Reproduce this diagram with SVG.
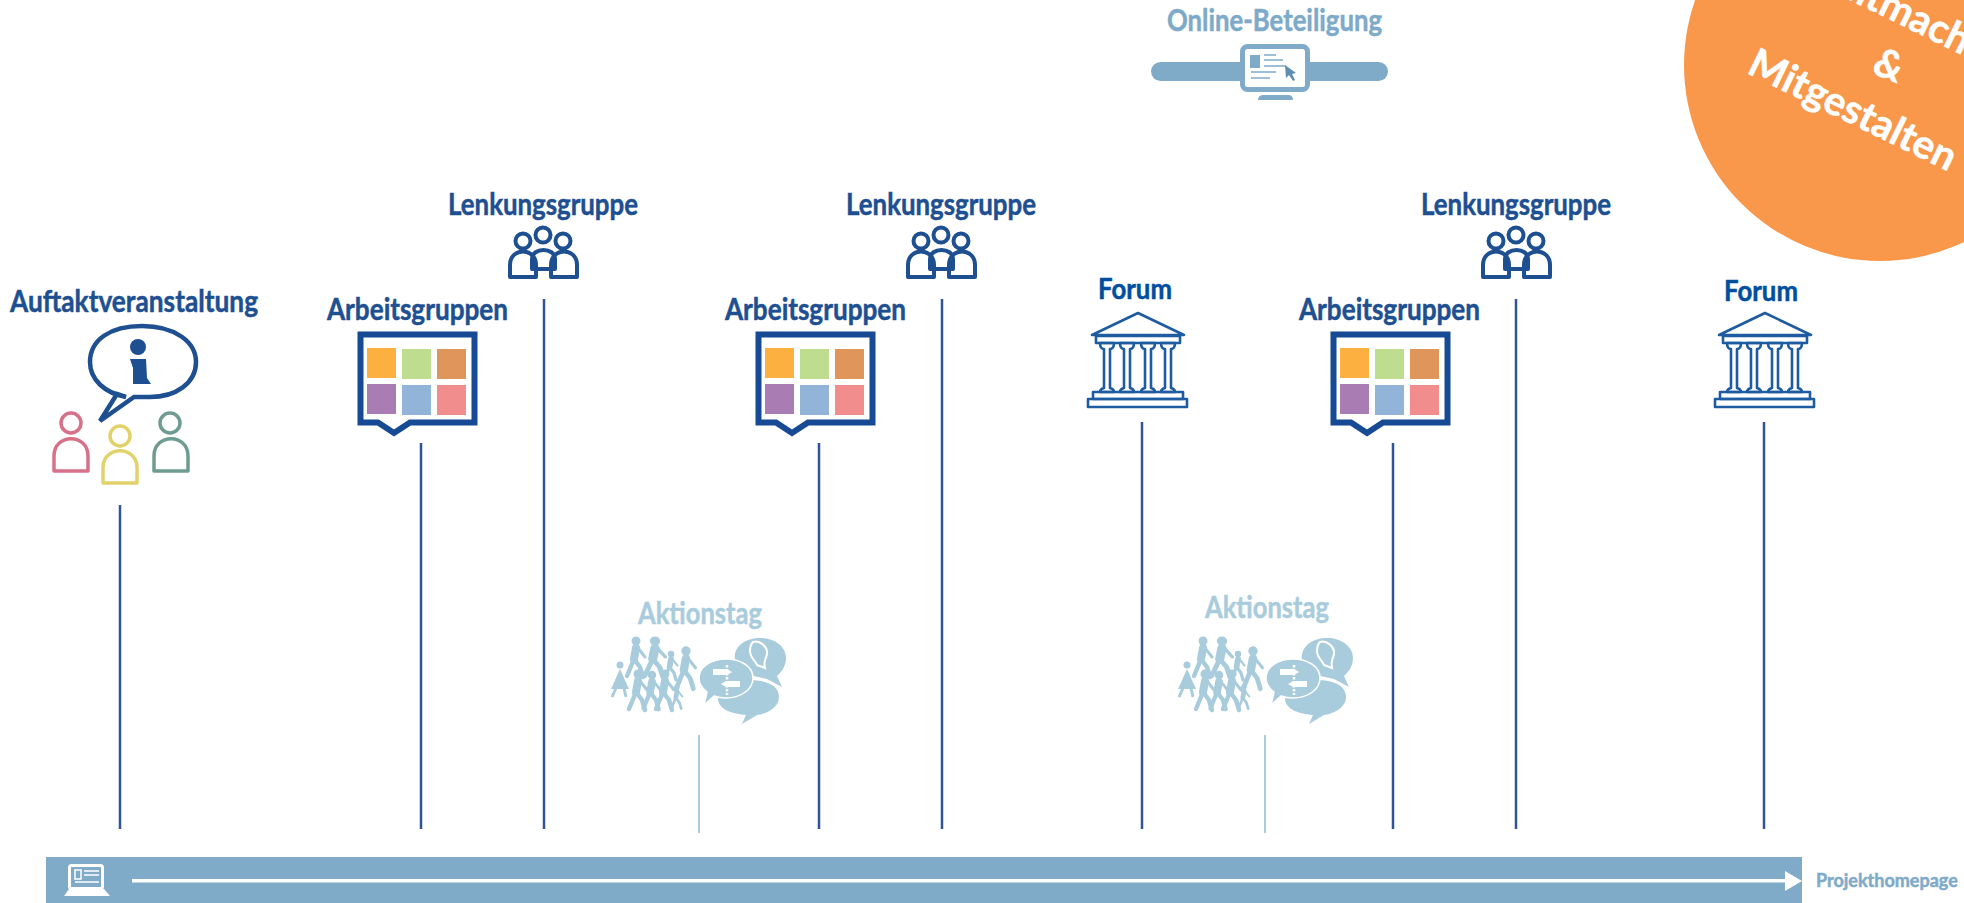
<svg xmlns="http://www.w3.org/2000/svg" xmlns:xlink="http://www.w3.org/1999/xlink" width="1964" height="903" viewBox="0 0 1964 903">
<style>
text{font-family:"Lato","Carlito","Liberation Sans",sans-serif;font-weight:700;stroke-width:.5;paint-order:stroke}
.lb{fill:#1D4F91;stroke:#1D4F91;font-size:30px}
.fo{fill:#004F9F;stroke:#004F9F;font-size:28px}
.ak{fill:#A9CCDD;stroke:#A9CCDD;font-size:30px}
.v{stroke:#2F5597;stroke-width:2.5;fill:none}
.vl{stroke:#A9CCDD;stroke-width:2;fill:none}
.ic{fill:none;stroke:#1D4F91;stroke-width:4;stroke-linejoin:round}
.t{fill:none;stroke:#1F5BA0;stroke-width:2.6;stroke-linejoin:round}
.w{fill:#A9CCDD;stroke:none}
.circ{fill:#FFFFFF;stroke:#FFFFFF;font-size:40px}
</style>
<defs>
<g id="board">
<path d="M360.500 334.500H474.500V422.500H410L394 433L378 422.500H360.500Z" fill="#fff" stroke="#174A94" stroke-width="6"/>
<rect x="367" y="348" width="29" height="30" fill="#FBB040"/>
<rect x="402" y="349" width="29" height="30" fill="#BFDD8F"/>
<rect x="437" y="349" width="29" height="30" fill="#E0965A"/>
<rect x="367" y="384" width="29" height="30" fill="#A97DB4"/>
<rect x="402" y="385" width="29" height="30" fill="#92B4D8"/>
<rect x="437" y="385" width="29" height="30" fill="#F28D8D"/>
</g>
<g id="team">
<circle cx="543" cy="235" r="7.500" class="ic"/>
<circle cx="523" cy="241" r="7.500" class="ic"/>
<circle cx="563" cy="241" r="7.500" class="ic"/>
<path d="M532 269V259C532 247 555 247 555 259V269Z" class="ic" stroke-width="3.500"/>
<path d="M510 277V265C510 247 536 247 536 265V277Z" class="ic"/>
<path d="M551 277V265C551 247 577 247 577 265V277Z" class="ic"/>
</g>
<g id="temple">
<path d="M1138 313L1184 335H1092Z" class="t"/>
<path d="M1096 336H1180V343H1096Z" class="t"/>
<path d="M1100 343Q1100 349 1104 349V388Q1100 389 1100 392H1114Q1114 389 1110 388V349Q1114 349 1114 343Z" class="t"/>
<path d="M1120 343Q1120 349 1124 349V388Q1120 389 1120 392H1134Q1134 389 1130 388V349Q1134 349 1134 343Z" class="t"/>
<path d="M1141 343Q1141 349 1145 349V388Q1141 389 1141 392H1155Q1155 389 1151 388V349Q1155 349 1155 343Z" class="t"/>
<path d="M1161 343Q1161 349 1165 349V388Q1161 389 1161 392H1175Q1175 389 1171 388V349Q1175 349 1175 343Z" class="t"/>
<rect x="1093" y="392" width="90" height="7" class="t"/>
<rect x="1088" y="399" width="99" height="8" class="t"/>
</g>
<g id="walker">
<circle cx="0" cy="0" r="4.500"/>
<path d="M0 7L-2 18" stroke="#A9CCDD" stroke-width="8" stroke-linecap="round" fill="none"/>
<path d="M-2 18L-9 35M-2 18L4 26L7 36" stroke="#A9CCDD" stroke-width="4.500" stroke-linecap="round" stroke-linejoin="round" fill="none"/>
<path d="M2 7L9 16" stroke="#A9CCDD" stroke-width="3" stroke-linecap="round" fill="none"/>
</g>
<g id="action">
<g class="w">
<use xlink:href="#walker" href="#walker" transform="translate(636 641)"/>
<use xlink:href="#walker" href="#walker" transform="translate(655 641) scale(1.150 1)"/>
<use xlink:href="#walker" href="#walker" transform="translate(671 654) scale(.72)"/>
<use xlink:href="#walker" href="#walker" transform="translate(686 651) scale(1.050)"/>
<path d="M620 669L629 689H611Z"/><circle cx="620" cy="665" r="3.500"/>
<path d="M616 688L612 697M624 688L626 697" stroke="#A9CCDD" stroke-width="3" fill="none"/>
<use xlink:href="#walker" href="#walker" transform="translate(638 674)"/>
<use xlink:href="#walker" href="#walker" transform="translate(652 675) scale(.95)"/>
<use xlink:href="#walker" href="#walker" transform="translate(665 674)"/>
<use xlink:href="#walker" href="#walker" transform="translate(677 687) scale(.6)"/>
</g>
<path d="M735 660C733 646 746 638 760 638C774 638 786 646 786 658C786 667 781 672 777 676L782 687L767 679L735 672Z" class="w"/>
<path d="M753 642C760 640 768 647 767 654C766 660 763 661 765 668L757 665C755 660 750 658 750 651C750 647 751 644 753 642Z" fill="none" stroke="#fff" stroke-width="2"/>
<path d="M718 698C718 685 733 680 749 680C766 680 779 685 779 697C779 708 766 714 757 715L742 724L746 715C733 714 718 710 718 698Z" class="w"/>
<path d="M699 678C699 666 712 659 726 659C740 659 753 666 753 678C753 690 740 698 726 698C722 698 717 697 714 696L704 705L707 692C703 689 699 684 699 678Z" fill="#A9CCDD" stroke="#fff" stroke-width="1.500"/>
<path d="M713 669H727L732 672L727 675H713ZM740 681H726L721 684L726 687H740Z" fill="#fff"/>
<path d="M727 665V695" stroke="#fff" stroke-width="2.500" stroke-dasharray="2.500 1.500"/>
</g>
</defs>

<g id="connectors">
<path class="v" d="M120 505V829M421 443V829M544 299V829M819 443V829M942 299V829M1142 422V829M1393 443V829M1516 299V829M1764 422V829"/>
<path class="vl" d="M699 735V833M1265 735V833"/>
</g>

<g id="auftakt">
<text x="10" y="312" class="lb" textLength="248" lengthAdjust="spacingAndGlyphs">Auftaktveranstaltung</text>
<path d="M126 397C105 393 90 380 90 362C90 340 110 326 142 326C175 326 196 342 196 362C196 383 176 397 150 397H134L100 421L117 394Z" fill="#fff" stroke="#1D4F91" stroke-width="4.500" stroke-linejoin="miter"/>
<circle cx="138" cy="347" r="8" fill="#1D4F91"/>
<path d="M130 359H146L147 378L151 384H133V368Z" fill="#1D4F91"/>
<g fill="none" stroke-width="3.500" stroke-linejoin="round">
<g stroke="#D8708A"><circle cx="71" cy="423" r="10"/><path d="M54 471V456C54 433 88 433 88 456V471Z"/></g>
<g stroke="#E2D26B"><circle cx="120" cy="436" r="10"/><path d="M103 483V468C103 445 137 445 137 468V483Z"/></g>
<g stroke="#6E9C90"><circle cx="170" cy="423" r="10"/><path d="M154 471V456C154 433 188 433 188 456V471Z"/></g>
</g>
</g>

<g id="arbeitsgruppen-1">
<text x="327" y="320" class="lb" textLength="181" lengthAdjust="spacingAndGlyphs">Arbeitsgruppen</text>
<use xlink:href="#board" href="#board"/>
</g>
<g id="lenkungsgruppe-1">
<text x="448" y="215" class="lb" textLength="190" lengthAdjust="spacingAndGlyphs">Lenkungsgruppe</text>
<use xlink:href="#team" href="#team"/>
</g>
<g id="arbeitsgruppen-2">
<text x="725" y="320" class="lb" textLength="181" lengthAdjust="spacingAndGlyphs">Arbeitsgruppen</text>
<use xlink:href="#board" href="#board" x="398"/>
</g>
<g id="lenkungsgruppe-2">
<text x="846" y="215" class="lb" textLength="190" lengthAdjust="spacingAndGlyphs">Lenkungsgruppe</text>
<use xlink:href="#team" href="#team" x="398"/>
</g>
<g id="forum-1">
<text x="1098" y="299" class="fo" textLength="74" lengthAdjust="spacingAndGlyphs">Forum</text>
<use xlink:href="#temple" href="#temple"/>
</g>
<g id="arbeitsgruppen-3">
<text x="1299" y="320" class="lb" textLength="181" lengthAdjust="spacingAndGlyphs">Arbeitsgruppen</text>
<use xlink:href="#board" href="#board" x="973"/>
</g>
<g id="lenkungsgruppe-3">
<text x="1421" y="215" class="lb" textLength="190" lengthAdjust="spacingAndGlyphs">Lenkungsgruppe</text>
<use xlink:href="#team" href="#team" x="973"/>
</g>
<g id="forum-2">
<text x="1724" y="301" class="fo" textLength="74" lengthAdjust="spacingAndGlyphs">Forum</text>
<use xlink:href="#temple" href="#temple" x="627"/>
</g>
<g id="aktionstag-1">
<text x="638" y="624" class="ak" textLength="124" lengthAdjust="spacingAndGlyphs">Aktionstag</text>
<use xlink:href="#action" href="#action"/>
</g>
<g id="aktionstag-2">
<text x="1205" y="618" class="ak" textLength="124" lengthAdjust="spacingAndGlyphs">Aktionstag</text>
<use xlink:href="#action" href="#action" x="567"/>
</g>

<g id="online-beteiligung">
<text x="1167" y="31" font-size="30" fill="#7EAAC9" stroke="#7EAAC9" textLength="215" lengthAdjust="spacingAndGlyphs">Online-Beteiligung</text>
<rect x="1151" y="62" width="237" height="19" rx="9.500" fill="#7FABC9"/>
<rect x="1242.500" y="46.500" width="65" height="43" rx="5" fill="#fff" stroke="#7FABC9" stroke-width="5"/>
<rect x="1250" y="55" width="10" height="13" fill="#7FABC9"/>
<path d="M1264 55H1276M1264 60H1283M1264 66H1286M1251 72H1276M1251 78H1270" stroke="#7FABC9" stroke-width="1.500" fill="none"/>
<path d="M1285 65L1296 73L1292 74L1295 80L1293 81L1289 75L1286 78Z" fill="#5E8FB3"/>
<path d="M1258 100Q1258 95 1264 95H1288Q1293 95 1293 100Z" fill="#7FABC9"/>
</g>

<g id="mitmachen">
<circle cx="1880" cy="65" r="196" fill="#F9974A"/>
<text transform="translate(1911 30) rotate(26)" class="circ" text-anchor="middle">Mitmachen</text>
<text transform="translate(1884 78) rotate(22)" class="circ" text-anchor="middle" font-size="44">&amp;</text>
<text transform="translate(1847 122) rotate(26)" class="circ" text-anchor="middle">Mitgestalten</text>
</g>

<g id="projekthomepage">
<rect x="46" y="857" width="1756" height="46" fill="#7FABC9"/>
<rect x="132" y="879" width="1655" height="3.500" fill="#fff"/>
<path d="M1785 871L1802 881L1785 891Z" fill="#fff"/>
<g fill="none" stroke="#fff" stroke-width="3">
<rect x="69.500" y="865.500" width="33" height="23" rx="2"/>
<path d="M84 871H99M84 875H99M75 882H99" stroke-width="1.500"/>
<rect x="75" y="870" width="6" height="9" stroke-width="1.500"/>
</g>
<path d="M69 889H104L110 896H64Z" fill="#fff"/>
<text x="1816" y="887" font-size="18" fill="#7FABC9" stroke="#7FABC9">Projekthomepage</text>
</g>
</svg>
